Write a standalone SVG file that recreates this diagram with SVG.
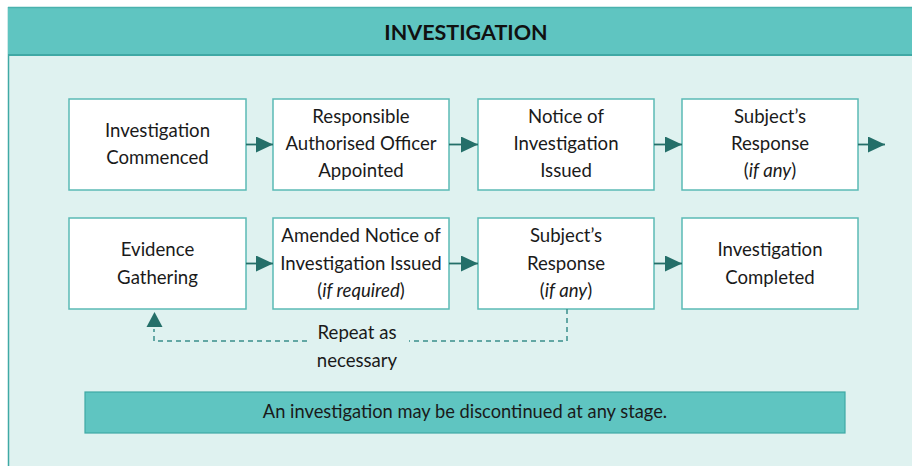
<svg xmlns="http://www.w3.org/2000/svg" width="912" height="466" viewBox="0 0 912 466">
<style>
.box{fill:#ffffff;stroke:#5bbab5;stroke-width:1.5}
.t{font-family:Lato,"Liberation Sans",sans-serif;font-size:18.6px;fill:#1a1a1a;text-anchor:middle}
.i{font-style:italic}
.arr{stroke:#246f69;stroke-width:1.8;fill:none;marker-end:url(#ah)}
.dash{stroke:#3a8f8a;stroke-width:1.5;fill:none;stroke-dasharray:5 4}
</style>
<defs>
<marker id="ah" viewBox="0 0 17 16" refX="17" refY="8" markerWidth="17" markerHeight="16" markerUnits="userSpaceOnUse" orient="auto">
<path d="M0,0 L17,8 L0,16 Z" fill="#246f69"/>
</marker>
</defs>
<rect x="0" y="0" width="912" height="466" fill="#ffffff"/>
<g id="panel">
<rect x="8" y="7" width="910" height="470" fill="#dff2f0"/>
<line x1="8.5" y1="7" x2="8.5" y2="466" stroke="#3fa9a5" stroke-width="1.5"/>
<rect x="8" y="7" width="910" height="48" fill="#5fc5c1"/>
<line x1="8" y1="7.5" x2="912" y2="7.5" stroke="#4ab2ae" stroke-width="1.5"/>
<line x1="8" y1="55" x2="912" y2="55" stroke="#3fa9a5" stroke-width="2"/>
<text x="466" y="39.5" font-family="Lato,'Liberation Sans',sans-serif" font-size="21.5" font-weight="bold" fill="#111" text-anchor="middle">INVESTIGATION</text>
</g>
<g id="n1"><rect class="box" x="69" y="99" width="177" height="91"/>
<text class="t" x="157.5" y="136.5">Investigation</text><text class="t" x="157.5" y="163.5">Commenced</text></g>
<g id="n2"><rect class="box" x="273" y="99" width="176" height="91"/>
<text class="t" x="361" y="122.5">Responsible</text><text class="t" x="361" y="149.5">Authorised Officer</text><text class="t" x="361" y="176.5">Appointed</text></g>
<g id="n3"><rect class="box" x="478" y="99" width="176" height="91"/>
<text class="t" x="566" y="122.5">Notice of</text><text class="t" x="566" y="149.5">Investigation</text><text class="t" x="566" y="176.5">Issued</text></g>
<g id="n4"><rect class="box" x="682" y="99" width="176" height="91"/>
<text class="t" x="770" y="122.5">Subject’s</text><text class="t" x="770" y="149.5">Response</text><text class="t" x="770" y="176.5">(<tspan class="i">if any</tspan>)</text></g>
<g id="n5"><rect class="box" x="69" y="218" width="177" height="91"/>
<text class="t" x="157.5" y="255.5">Evidence</text><text class="t" x="157.5" y="283.5">Gathering</text></g>
<g id="n6"><rect class="box" x="273" y="218" width="176" height="91"/>
<text class="t" x="361" y="241.5">Amended Notice of</text><text class="t" x="361" y="269.5">Investigation Issued</text><text class="t" x="361" y="296.5">(<tspan class="i">if required</tspan>)</text></g>
<g id="n7"><rect class="box" x="478" y="218" width="176" height="91"/>
<text class="t" x="566" y="241.5">Subject’s</text><text class="t" x="566" y="269.5">Response</text><text class="t" x="566" y="296.5">(<tspan class="i">if any</tspan>)</text></g>
<g id="n8"><rect class="box" x="682" y="218" width="176" height="91"/>
<text class="t" x="770" y="255.5">Investigation</text><text class="t" x="770" y="283.5">Completed</text></g>
<g id="connectors">
<line class="arr" x1="246" y1="144.5" x2="273" y2="144.5"/>
<line class="arr" x1="449" y1="144.5" x2="478" y2="144.5"/>
<line class="arr" x1="654" y1="144.5" x2="682" y2="144.5"/>
<line class="arr" x1="858" y1="144.5" x2="885" y2="144.5"/>
<line class="arr" x1="246" y1="263.5" x2="273" y2="263.5"/>
<line class="arr" x1="449" y1="263.5" x2="478" y2="263.5"/>
<line class="arr" x1="654" y1="263.5" x2="682" y2="263.5"/>
<path class="dash" d="M567,309 V341 H409"/>
<path class="dash" d="M307,341 H154 V329"/>
<path d="M146.5,327 L154.5,312 L162.5,327 Z" fill="#246f69"/>
<text class="t" x="357" y="338.5">Repeat as</text>
<text class="t" x="357" y="366.5">necessary</text>
</g>
<g id="banner">
<rect x="85" y="392" width="760" height="41" fill="#5fc5c1" stroke="#3fa9a5" stroke-width="1.2"/>
<text class="t" x="465" y="417.5" style="font-size:18.3px">An investigation may be discontinued at any stage.</text>
</g>
</svg>
